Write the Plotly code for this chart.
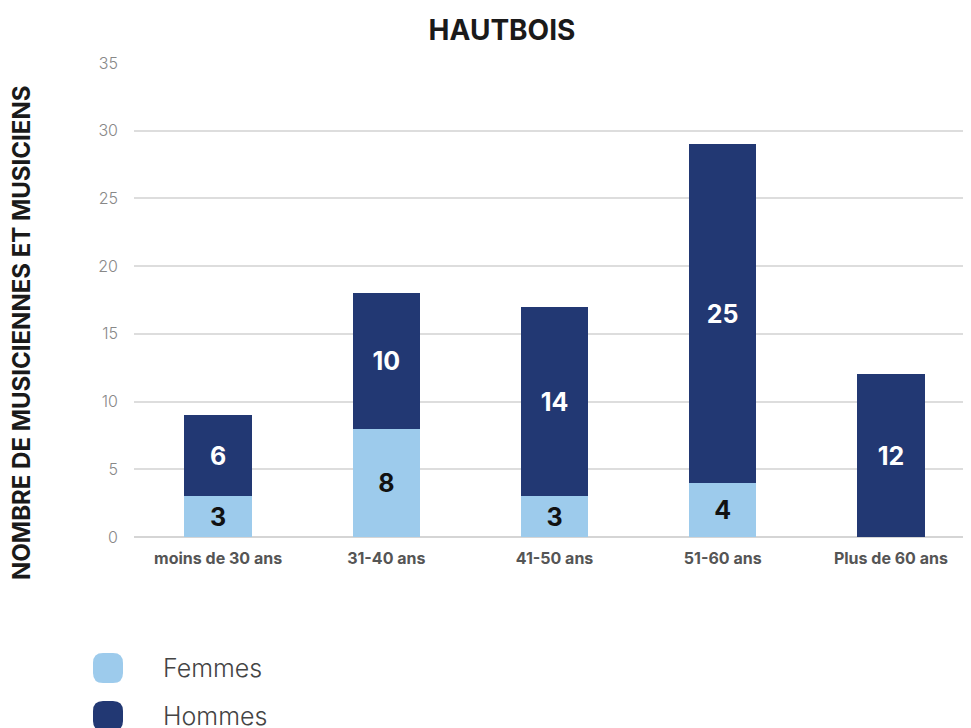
import plotly.graph_objects as go

categories = ["moins de 30 ans", "31-40 ans", "41-50 ans", "51-60 ans", "Plus de 60 ans"]
femmes = [3, 8, 3, 4, 0]
hommes = [6, 10, 14, 25, 12]
y_ticks = [0, 5, 10, 15, 20, 25, 30, 35]

LIGHT = "#9dcbec"
DARK = "#223873"
FONT = "Inter, Open Sans, sans-serif"
OFF = 8  # default page body margin
W, H = 971, 728
L, R, T, B = 134 - OFF, 4, 63 - OFF, H - (537 - OFF)

fig = go.Figure()
fig.add_trace(go.Bar(
    x=categories, y=femmes, name="Femmes", marker=dict(color=LIGHT, line=dict(width=0)),
    text=[str(v) if v else "" for v in femmes], textposition="inside", insidetextanchor="middle",
    textfont=dict(family=FONT, size=25, color="#111111", weight="bold"),
    showlegend=False, hoverinfo="skip"))
fig.add_trace(go.Bar(
    x=categories, y=hommes, name="Hommes", marker=dict(color=DARK, line=dict(width=0)),
    text=[str(v) if v else "" for v in hommes], textposition="inside", insidetextanchor="middle",
    textfont=dict(family=FONT, size=25, color="#ffffff", weight="bold"),
    showlegend=False, hoverinfo="skip"))

fig.update_layout(
    barmode="stack", bargap=0.6,
    width=W, height=H,
    margin=dict(l=L, r=R, t=T, b=B),
    plot_bgcolor="white", paper_bgcolor="white",
    title=dict(text="<b>HAUTBOIS</b>", x=(502 - OFF) / W, xanchor="center", y=1 - (30 - OFF) / H,
               yanchor="middle", font=dict(family=FONT, size=28, color="#1a1a1a")),
    xaxis=dict(tickfont=dict(family=FONT, size=16, color="#555555", weight="bold"),
               showgrid=False, showline=False, ticks="", ticklabelstandoff=10),
    yaxis=dict(range=[0, 35], tickvals=y_ticks, showgrid=True, gridcolor="#dddddd", gridwidth=1.5,
               zeroline=True, zerolinecolor="#d5d5d5", zerolinewidth=2,
               tickfont=dict(family=FONT, size=16, color="#888888", weight=300),
               ticks="", ticklabelstandoff=15, showline=False),
)

plot_w = W - L - R
plot_h = H - T - B
def px_to_paper_x(px):
    return (px - OFF - L) / plot_w
def px_to_paper_y(py):
    return 1 - (py - OFF - T) / plot_h

# y-axis title
fig.add_annotation(text="<b>NOMBRE DE MUSICIENNES ET MUSICIENS</b>", xref="paper", yref="paper",
                   x=px_to_paper_x(21), y=px_to_paper_y(333),
                   textangle=-90, showarrow=False, xanchor="center", yanchor="middle",
                   font=dict(family=FONT, size=24, color="#1a1a1a"))

# custom legend
for label, color, cy in [("Femmes", LIGHT, 668), ("Hommes", DARK, 716)]:
    x0, x1 = 93, 123
    y0, y1 = cy - 15, cy + 15
    r = 10
    segs = [("M", x0 + r, y0), ("L", x1 - r, y0), ("Q", x1, y0), ("", x1, y0 + r), ("L", x1, y1 - r),
            ("Q", x1, y1), ("", x1 - r, y1), ("L", x0 + r, y1), ("Q", x0, y1), ("", x0, y1 - r),
            ("L", x0, y0 + r), ("Q", x0, y0), ("", x0 + r, y0)]
    path = " ".join(f"{c} {px_to_paper_x(a):.5f},{px_to_paper_y(b):.5f}".strip() for c, a, b in segs) + " Z"
    fig.add_shape(type="path", path=path, xref="paper", yref="paper",
                  fillcolor=color, line=dict(width=0))
    fig.add_annotation(text=label, xref="paper", yref="paper", x=px_to_paper_x(161), y=px_to_paper_y(cy),
                       xanchor="left", yanchor="middle", showarrow=False,
                       font=dict(family=FONT, size=25, color="#444444", weight=300))

fig.write_html("out.html")
